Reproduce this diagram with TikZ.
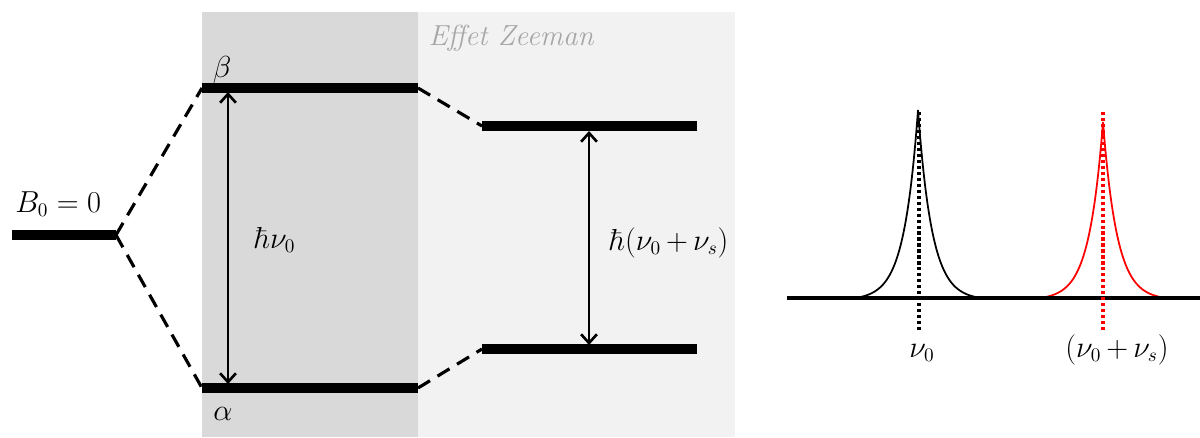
\documentclass[tikz,border=0pt]{standalone}
\usetikzlibrary{arrows.meta}
\definecolor{darkband}{HTML}{D9D9D9}
\definecolor{lightband}{HTML}{F2F2F2}
\definecolor{titlegray}{HTML}{A6A6A6}
\tikzset{
  level/.style={line width=5.2pt},
  link/.style={line width=1.8pt, dash pattern=on 8pt off 5pt},
  gap/.style={line width=1.5pt, {Straight Barb[length=5pt,width=9pt]}-{Straight Barb[length=5pt,width=9pt]}},
  lab/.style={font=\fontsize{16}{18}\selectfont, inner sep=0pt},
  peakline/.style={line width=1pt},
  marker/.style={line width=1.8pt, dash pattern=on 1.8pt off 1.6pt},
}
\begin{document}
\begin{tikzpicture}[x=0.02cm,y=-0.02cm]
\useasboundingbox (0,0) rectangle (1200,437);
% bands
\fill[darkband] (202,12) rectangle (418,437);
\fill[lightband] (418,12) rectangle (735,437);
\node[font=\fontsize{16.5}{18}\selectfont\itshape, text=titlegray, inner sep=0pt, anchor=base] (title) at (511,45) {Effet Zeeman};
% coordinates
\coordinate (z0l) at (12,235); \coordinate (z0r) at (116,235);
\coordinate (bl) at (202,88); \coordinate (br) at (418,88);
\coordinate (al) at (202,388); \coordinate (ar) at (418,388);
\coordinate (bbl) at (482,126); \coordinate (bbr) at (697,126);
\coordinate (aal) at (482,349); \coordinate (aar) at (697,349);
% levels
\draw[level] (z0l) -- (z0r);
\draw[level] (bl) -- (br);
\draw[level] (al) -- (ar);
\draw[level] (bbl) -- (bbr);
\draw[level] (aal) -- (aar);
% links
\draw[link] (z0r) -- (bl);
\draw[link] (z0r) -- (al);
\draw[link] (br) -- (bbl);
\draw[link] (ar) -- (aal);
% gaps
\coordinate (g1t) at (228,92); \coordinate (g1b) at (228,384);
\coordinate (g2t) at (589,131); \coordinate (g2b) at (589,345);
\draw[gap] (g1t) -- (g1b);
\draw[gap] (g2t) -- (g2b);
% labels
\node[lab] (beta) at (222,70) {$\beta$};
\node[lab] (alpha) at (223,414) {$\alpha$};
\node[lab, anchor=base west] (b0) at (15,212) {$B_0=0$};
\node[lab, anchor=base west] (e1) at (254,248) {$\hbar\nu_0$};
\node[lab, anchor=base west] (e2) at (609,250) {$\hbar(\nu_0\,{+}\,\nu_s)$};
% spectrum
\coordinate (axl) at (787,298); \coordinate (axr) at (1200,298);
\draw[peakline] plot[domain=-63:63, samples=253] ({918+\x}, {298-188*(exp(-abs(\x)/14)-0.011)/(1-0.011)});
\draw[peakline, red] plot[domain=-63:63, samples=253] ({1103+\x}, {298-176*(exp(-abs(\x)/14)-0.011)/(1-0.011)});
\draw[line width=1.8pt] (axl) -- (axr);
\coordinate (m1t) at (919,112); \coordinate (m1b) at (919,331);
\coordinate (m2t) at (1103,112); \coordinate (m2b) at (1103,331);
\draw[marker] (m1t) -- (m1b);
\draw[marker, red] (m2t) -- (m2b);
\node[lab, anchor=base] (n0) at (922,357) {$\nu_0$};
\node[lab, anchor=base] (n1) at (1117,357) {$(\nu_0\,{+}\,\nu_s)$};
\end{tikzpicture}
\end{document}
